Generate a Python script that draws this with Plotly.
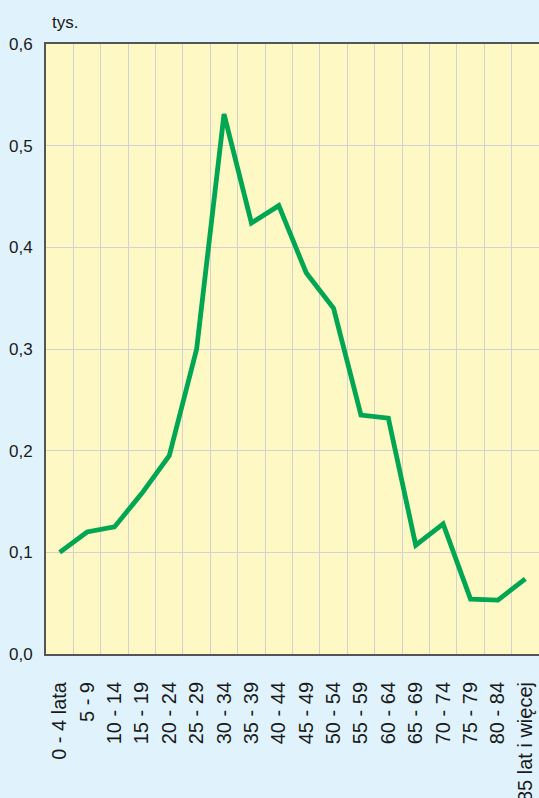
import plotly.graph_objects as go

categories = ["0 - 4 lata", "5 - 9", "10 - 14", "15 - 19", "20 - 24", "25 - 29",
              "30 - 34", "35 - 39", "40 - 44", "45 - 49", "50 - 54", "55 - 59",
              "60 - 64", "65 - 69", "70 - 74", "75 - 79", "80 - 84", "85 lat i więcej"]
values = [0.100, 0.120, 0.125, 0.158, 0.195, 0.300, 0.531, 0.424, 0.441, 0.375,
          0.340, 0.235, 0.232, 0.107, 0.128, 0.054, 0.053, 0.074]
y_ticks = [0.0, 0.1, 0.2, 0.3, 0.4, 0.5, 0.6]

fig = go.Figure()
fig.add_trace(go.Scatter(
    x=categories, y=values, mode="lines",
    line=dict(color="#00a651", width=4.8), hoverinfo="skip"))

fig.update_layout(
    width=539, height=798,
    margin=dict(l=46, r=0, t=44, b=144, autoexpand=False),
    paper_bgcolor="#e0f3fc", plot_bgcolor="#fef8c4",
    separators=", ",
    showlegend=False,
    font=dict(family="Liberation Sans, Arial, sans-serif", color="#1a1a1a"),
    annotations=[dict(text="tys.", xref="paper", yref="paper", x=0.0, y=1.0,
                      xanchor="left", yanchor="bottom", yshift=10, xshift=4,
                      showarrow=False, font=dict(size=17, color="#1a1a1a"))],
)
fig.update_xaxes(
    type="category", categoryorder="array", categoryarray=categories,
    range=[-0.5, len(categories) - 0.5],
    tickson="boundaries", showgrid=True, gridcolor="#d2d2d2", gridwidth=1,
    tickangle=-90, tickfont=dict(size=20),
    ticks="", ticklabelstandoff=18, automargin=False,
    showline=True, linecolor="#555555", linewidth=2, mirror=True,
    fixedrange=True,
)
fig.update_yaxes(
    range=[0, 0.6], tickvals=y_ticks, tickformat=".1f",
    showgrid=True, gridcolor="#d2d2d2", gridwidth=1,
    tickfont=dict(size=17), automargin=False,
    ticks="outside", ticklen=8, tickcolor="rgba(0,0,0,0)",
    showline=True, linecolor="#555555", linewidth=2, zeroline=False,
    fixedrange=True,
)

fig.write_html("out.html", config={"displayModeBar": False},
               post_script="document.body.style.margin='0px';document.body.style.overflow='hidden';")
